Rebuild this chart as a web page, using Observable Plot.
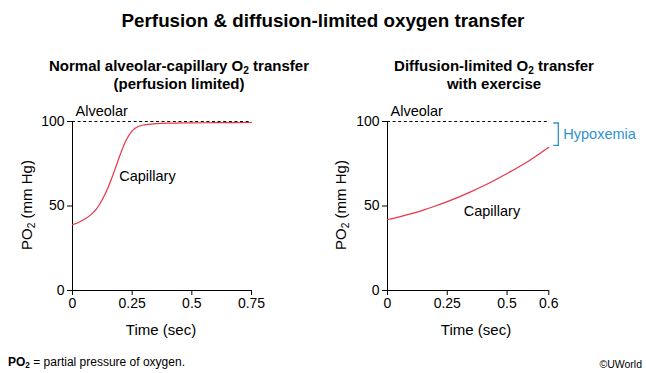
<!DOCTYPE html>
<html>
<head>
<meta charset="utf-8">
<script src="https://cdn.jsdelivr.net/npm/d3@7"></script>
<script src="https://cdn.jsdelivr.net/npm/@observablehq/plot@0.6"></script>
<style>
  html, body { margin: 0; padding: 0; background: #fff; }
  #wrap { position: relative; width: 646px; height: 373px; background: #fff; overflow: hidden;
          font-family: "Liberation Sans", Arial, Helvetica, sans-serif; color: #000; }
  #wrap div { position: absolute; white-space: nowrap; }
  sub { font-size: 0.68em; vertical-align: -0.3em; line-height: 0; }
  .title { left: 0; width: 646px; top: 10px; line-height: 22px; text-align: center; font-weight: bold; font-size: 18.8px; }
  .sub { width: 300px; top: 57px; line-height: 18px; text-align: center; font-weight: bold; font-size: 15px; }
  .ylab { width: 120px; line-height: 16px; text-align: center; font-size: 15px; transform: rotate(-90deg); top: 197px; }
  .xlab { width: 120px; line-height: 18px; text-align: center; font-size: 15px; top: 321px; }
  .foot { left: 8px; top: 355px; line-height: 14px; font-size: 12px; }
  .copy { right: 4px; top: 357px; line-height: 14px; font-size: 10.5px; }
  #left, #right { top: 100px; }
  #left svg, #right svg { background: transparent !important; overflow: visible; }
</style>
</head>
<body>
<div id="wrap">
  <div class="title">Perfusion &amp; diffusion-limited oxygen transfer</div>
  <div class="sub" style="left:29px">Normal alveolar-capillary O<sub>2</sub> transfer<br>(perfusion limited)</div>
  <div class="sub" style="left:344px">Diffusion-limited O<sub>2</sub> transfer<br>with exercise</div>
  <div class="ylab" style="left:-33px">PO<sub>2</sub> (mm Hg)</div>
  <div class="ylab" style="left:281px">PO<sub>2</sub> (mm Hg)</div>
  <div class="xlab" style="left:101px">Time (sec)</div>
  <div class="xlab" style="left:416px">Time (sec)</div>
  <div id="left" style="left:0px"></div>
  <div id="right" style="left:315px"></div>
  <div class="foot"><b>PO<sub>2</sub></b> = partial pressure of oxygen.</div>
  <div class="copy">©UWorld</div>
</div>
<script>
// ---- data ----
const leftTime  = [0, 0.025, 0.05, 0.075, 0.1, 0.125, 0.15, 0.175, 0.2, 0.225, 0.25, 0.275, 0.3, 0.35, 0.4, 0.5, 0.6, 0.75];
const leftPO2   = [39, 40.2, 42.1, 44.6, 48.1, 53.8, 61.3, 70.5, 80.5, 89, 94.5, 97, 98, 98.7, 99, 99.2, 99.3, 99.4];
const rightTime = [0, 0.05, 0.1, 0.15, 0.2, 0.25, 0.3, 0.35, 0.4, 0.45, 0.5, 0.55, 0.6];
const rightPO2  = [42, 43.6, 45.5, 47.6, 50.0, 52.6, 55.4, 58.5, 61.8, 65.4, 69.2, 76.3, 84.7];
const xTicksLeft  = [0, 0.25, 0.5, 0.75];
const xTicksRight = [0, 0.25, 0.5, 0.6];
// the right-hand time axis is drawn with its last interval (0.5 to 0.6) stretched, as in the original
const xTickSpotsRight = [0, 0.25, 0.5, 0.6746];
const yTicks = [0, 50, 100];
const alveolarPO2 = 100;
const leftLabels  = {alveolar: "Alveolar", capillary: "Capillary"};
const rightLabels = {alveolar: "Alveolar", capillary: "Capillary", gap: "Hypoxemia"};

const FONT = '"Liberation Sans", Arial, Helvetica, sans-serif';
const RED = "#ec3349";
const BLUE = "#2f93d1";

const timeAxisRight = d3.scaleLinear().domain(xTicksRight).range(xTickSpotsRight);

const leftData = leftTime.map((t, i) => ({t, v: leftPO2[i]}));
const rightData = rightTime.map((t, i) => ({t: timeAxisRight(t), v: rightPO2[i]}));

function commonMarks(data, ticks, fmt, labels, capIdx, capDx, capDy) {
  return [
    Plot.ruleY([alveolarPO2], {stroke: "#000", strokeWidth: 1, strokeDasharray: "3,2.6"}),
    Plot.axisY({ticks: yTicks, tickSize: 5, tickPadding: 3, label: null, fontSize: 14}),
    Plot.axisX({ticks: ticks, tickSize: 5, tickPadding: 3, label: null, fontSize: 14, tickFormat: fmt}),
    Plot.ruleX([0], {stroke: "#000"}),
    Plot.ruleY([0], {stroke: "#000"}),
    Plot.line(data, {x: "t", y: "v", stroke: RED, strokeWidth: 1.2, curve: "monotone-x"}),
    Plot.text([data[0]], {x: "t", y: () => alveolarPO2, text: () => labels.alveolar, textAnchor: "start", dx: 3, dy: -10, fontSize: 14.5}),
    Plot.text([data[capIdx]], {x: "t", y: "v", text: () => labels.capillary, textAnchor: "start", dx: capDx, dy: capDy, fontSize: 14.5})
  ];
}

const left = Plot.plot({
  width: 323, height: 245,
  marginLeft: 72, marginRight: 72, marginTop: 21, marginBottom: 55,
  style: {fontFamily: FONT, fontSize: "14px", background: "transparent", color: "#000"},
  x: {domain: [0, 0.75]},
  y: {domain: [0, 100]},
  marks: commonMarks(leftData, xTicksLeft, d => String(d), leftLabels, 7, 5, 5)
});
document.getElementById("left").appendChild(left);

const last = rightData[rightData.length - 1];
const right = Plot.plot({
  width: 331, height: 245,
  marginLeft: 72, marginRight: 97.7, marginTop: 21, marginBottom: 55,
  style: {fontFamily: FONT, fontSize: "14px", background: "transparent", color: "#000"},
  x: {domain: [0, xTickSpotsRight[xTickSpotsRight.length - 1]]},
  y: {domain: [0, 100]},
  marks: [
    ...commonMarks(rightData, xTickSpotsRight, d => String(+timeAxisRight.invert(d).toFixed(2)), rightLabels, 6, 4.5, 14),
    (index, scales) => {
      const x0 = scales.x(last.t) + 5, x1 = scales.x(last.t) + 10;
      const yTop = scales.y(alveolarPO2) + 2, yBot = scales.y(last.v) - 1.5;
      const p = document.createElementNS("http://www.w3.org/2000/svg", "path");
      p.setAttribute("d", `M${x0},${yTop}H${x1}V${yBot}H${x0}`);
      p.setAttribute("fill", "none");
      p.setAttribute("stroke", BLUE);
      p.setAttribute("stroke-width", "1.3");
      return p;
    },
    Plot.text([last], {x: "t", y: d => (alveolarPO2 + d.v) / 2, text: () => rightLabels.gap, textAnchor: "start", dx: 14.5, fill: BLUE, fontSize: 14.5})
  ]
});
document.getElementById("right").appendChild(right);
</script>
</body>
</html>
